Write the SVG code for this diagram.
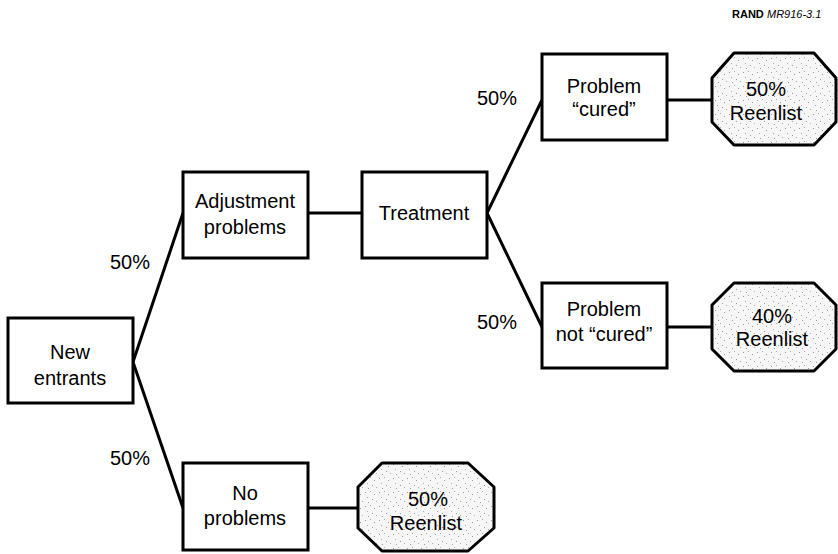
<svg xmlns="http://www.w3.org/2000/svg" width="838" height="554" viewBox="0 0 838 554">
<style>
.box{fill:#fff;stroke:#000;stroke-width:3}
.oct{fill:url(#stip);stroke:#000;stroke-width:3;stroke-linejoin:round}
.t{font-family:"Liberation Sans",Arial,sans-serif;font-size:20px;fill:#000;text-anchor:middle}
.c{fill:none;stroke:#000;stroke-width:3}
</style>
<defs>
<pattern id="stip" width="14" height="14" patternUnits="userSpaceOnUse">
<rect width="14" height="14" fill="#f6f6f6"/>
<rect x="1" y="2" width="1" height="1" fill="#999"/>
<rect x="6" y="1" width="1" height="1" fill="#aaa"/>
<rect x="10" y="4" width="1" height="1" fill="#999"/>
<rect x="3" y="7" width="1" height="1" fill="#aaa"/>
<rect x="8" y="9" width="1" height="1" fill="#999"/>
<rect x="12" y="11" width="1" height="1" fill="#aaa"/>
<rect x="4" y="12" width="1" height="1" fill="#999"/>
</pattern>
</defs>
<rect width="838" height="554" fill="#fff"/>
<text x="732" y="18" font-family="Liberation Sans,Arial,sans-serif" font-size="11" font-weight="bold">RAND</text>
<text x="767" y="18" font-family="Liberation Sans,Arial,sans-serif" font-size="11" font-style="italic">MR916-3.1</text>
<g id="connectors">
<polyline class="c" points="183,213 133,362 183,508"/>
<line class="c" x1="308" y1="213" x2="362" y2="213"/>
<polyline class="c" points="542,100 487,213 542,327"/>
<line class="c" x1="667" y1="100" x2="712" y2="100"/>
<line class="c" x1="667" y1="327" x2="712" y2="327"/>
<line class="c" x1="308" y1="508" x2="358" y2="508"/>
<text class="t" x="130" y="269">50%</text>
<text class="t" x="130" y="465">50%</text>
<text class="t" x="497" y="105">50%</text>
<text class="t" x="497" y="329">50%</text>
</g>
<g id="new-entrants">
<rect class="box" x="8" y="318" width="125" height="85"/>
<text class="t" x="70" y="359">New</text>
<text class="t" x="70" y="385">entrants</text>
</g>
<g id="adjustment">
<rect class="box" x="183" y="172" width="125" height="86"/>
<text class="t" x="245" y="208">Adjustment</text>
<text class="t" x="245" y="234">problems</text>
</g>
<g id="treatment">
<rect class="box" x="362" y="172" width="125" height="86"/>
<text class="t" x="424" y="220">Treatment</text>
</g>
<g id="cured">
<rect class="box" x="542" y="54" width="125" height="86"/>
<text class="t" x="604" y="93">Problem</text>
<text class="t" x="604" y="116">“cured”</text>
</g>
<g id="not-cured">
<rect class="box" x="542" y="283" width="125" height="85"/>
<text class="t" x="604" y="316">Problem</text>
<text class="t" x="604" y="341">not “cured”</text>
</g>
<g id="no-problems">
<rect class="box" x="183" y="463" width="125" height="87"/>
<text class="t" x="245" y="500">No</text>
<text class="t" x="245" y="525">problems</text>
</g>
<g id="reenlist-cured">
<polygon class="oct" points="734,53 814,53 836,78 836,122 814,145 734,145 712,122 712,78"/>
<text class="t" x="766" y="96">50%</text>
<text class="t" x="766" y="120">Reenlist</text>
</g>
<g id="reenlist-not-cured">
<polygon class="oct" points="734,283 814,283 836,305 836,349 814,371 734,371 712,349 712,305"/>
<text class="t" x="772" y="323">40%</text>
<text class="t" x="772" y="346">Reenlist</text>
</g>
<g id="reenlist-no-problems">
<polygon class="oct" points="382,463 468,463 494,487 494,528 468,551 382,551 358,528 358,487"/>
<text class="t" x="428" y="506">50%</text>
<text class="t" x="426" y="530">Reenlist</text>
</g>
</svg>
